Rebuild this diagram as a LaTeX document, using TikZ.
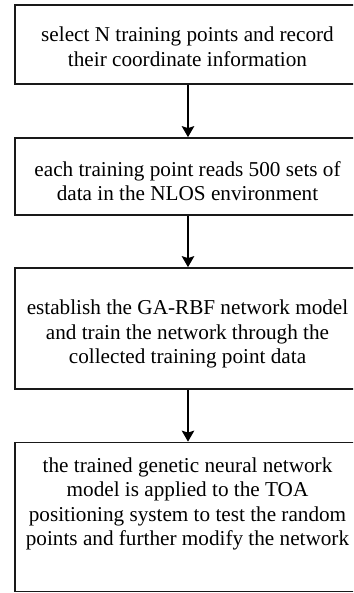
\documentclass[tikz,border=0pt]{standalone}
\usepackage{fontspec}
\setmainfont{Liberation Serif}
\usetikzlibrary{arrows.meta}
\begin{document}
\begin{tikzpicture}[x=1pt,y=1pt,
  stepbox/.style={draw=black!90, line width=1.7pt, minimum width=346pt, inner sep=0pt},
  txt/.style={align=center, inner sep=0pt, font=\fontsize{21.2}{24.5}\selectfont},
  conn/.style={line width=1.7pt, -{Stealth[length=11pt,width=12.5pt,inset=2pt]}}]
\useasboundingbox (0,0) rectangle (353,-593);
\clip (0,0) rectangle (353,-593);
\fill[white] (0,0) rectangle (353,-593);
\node[stepbox, minimum height=79pt] (b1) at (188,-44.5) {};
\node[stepbox, minimum height=77pt] (b2) at (188,-176.5) {};
\node[stepbox, minimum height=121pt] (b3) at (188,-328.5) {};
\node[stepbox, minimum height=149pt] (b4) at (188,-517) {};
\node[txt] (t1) at (187.5,-47) {select N training points and record\\their coordinate information};
\node[txt] (t2) at (187.5,-181) {each training point reads 500 sets of\\data in the NLOS environment};
\node[txt] (t3) at (187.5,-334) {establish the GA-RBF network model\\and train the network through the\\collected training point data};
\node[txt] (t4) at (187.5,-504) {the trained genetic neural network\\model is applied to the TOA\\positioning system to test the random\\points and further modify the network};
\draw[conn] (b1) -- (b2);
\draw[conn] (b2) -- (b3);
\draw[conn] (b3) -- (b4);
\end{tikzpicture}
\end{document}
